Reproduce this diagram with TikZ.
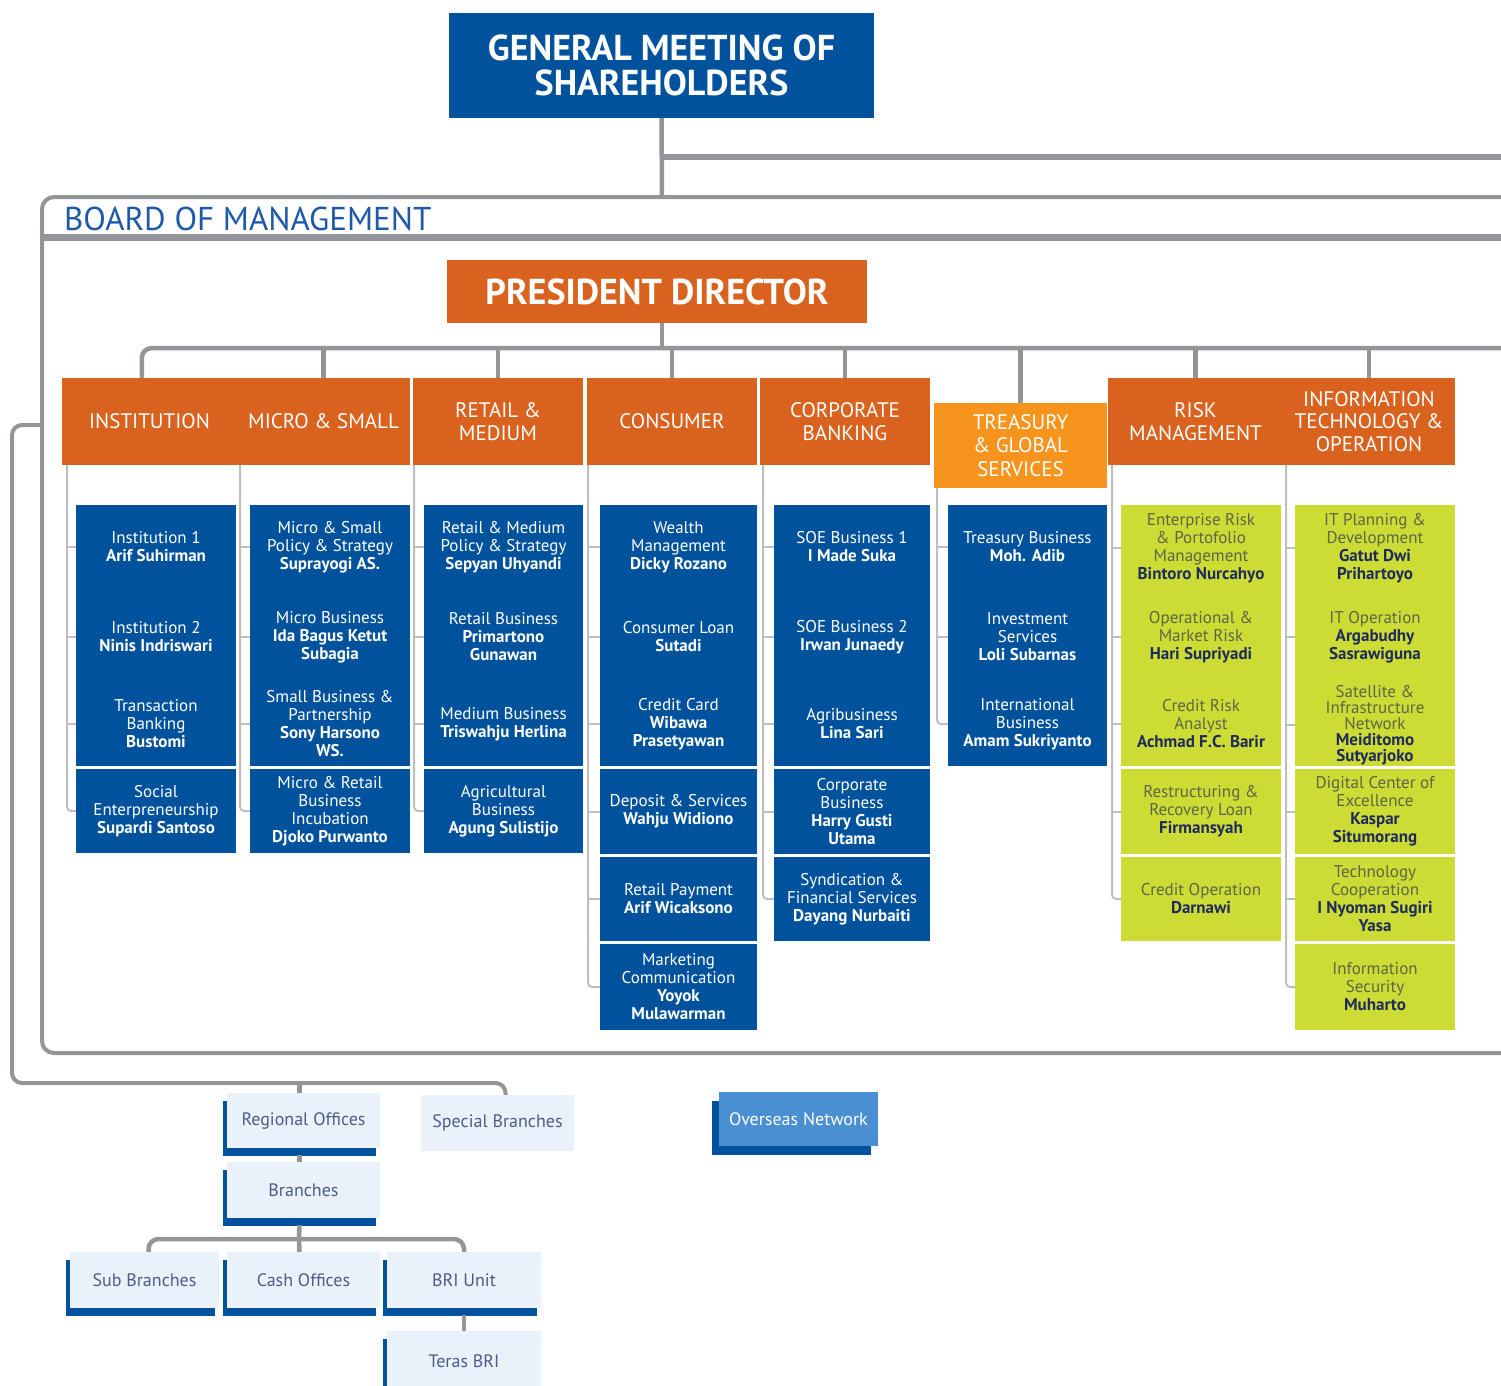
\documentclass[tikz,border=0pt]{standalone}
\usepackage{fontspec}
\setmainfont{PT Sans}
\usetikzlibrary{shadows}

\definecolor{briblue}{HTML}{00529C}
\definecolor{briorange}{HTML}{DA621F}
\definecolor{brigold}{HTML}{F7941D}
\definecolor{brigreen}{HTML}{CDDB35}
\definecolor{linegray}{HTML}{939598}
\definecolor{spinegray}{HTML}{BCBEC0}
\definecolor{paleblue}{HTML}{E9F1FA}
\definecolor{skyblue}{HTML}{4A8FD1}
\definecolor{olivetext}{HTML}{5E6647}
\definecolor{navytext}{HTML}{1E2B5C}
\definecolor{unittext}{HTML}{4F5C84}
\definecolor{boardtext}{HTML}{1D59A7}

\newcommand{\who}[1]{\textbf{#1}}
\newcommand{\gwho}[1]{{\bfseries\color{navytext}#1}}

\begin{document}
\begin{tikzpicture}[x=1pt, y=-1pt,
    conn/.style={draw=linegray, line width=4.5pt, rounded corners=10pt},
    spine/.style={draw=spinegray, line width=2pt, rounded corners=4pt},
    head/.style={fill=briorange, text=white, align=center, inner sep=0pt, minimum height=87pt, font=\fontsize{21}{22.5}\selectfont},
    entry/.style={text=white, align=center, inner sep=0pt, font=\fontsize{17}{18}\selectfont},
    gentry/.style={entry, text=olivetext},
    bluebox/.style={entry, fill=briblue},
    greenbox/.style={gentry, fill=brigreen, minimum width=160pt},
    unitbox/.style={fill=paleblue, text=unittext, inner sep=0pt, minimum width=153pt, minimum height=55pt, font=\fontsize{18}{18}\selectfont},
    blueshade/.style={drop shadow={shadow xshift=-4pt, shadow yshift=-8pt, fill=briblue, opacity=1}}
]
    \useasboundingbox (0,0) rectangle (1501,1385);

    % Shareholders and board frame
    \node[fill=briblue, text=white, align=center, inner sep=0pt, minimum width=425pt, minimum height=105pt, font=\fontsize{36}{35}\selectfont\bfseries] (gms) at (661.5,65.5) {GENERAL MEETING OF\\SHAREHOLDERS};
    \coordinate (boardtop) at (662,197);
    \coordinate (toright) at (1510,157);
    \draw[conn, line width=6pt] (gms.south |- toright) -- (toright);
    \draw[conn] (gms.south) -- (boardtop);
    \draw[linegray, line width=4pt, rounded corners=12pt] (1510,197) -- (42,197) -- (42,1053) -- (1510,1053);
    \draw[linegray, line width=7pt] (42,237) -- (1510,237);
    \node[anchor=west, text=boardtext, inner sep=0pt, font=\fontsize{33}{33}\selectfont] (bom) at (64,219) {BOARD OF MANAGEMENT};

    % President director
    \node[fill=briorange, text=white, inner sep=0pt, minimum width=420pt, minimum height=63pt, font=\fontsize{36}{36}\selectfont\bfseries] (pd) at (657,291.5) {PRESIDENT DIRECTOR};

    % Directorates
    \node[head, minimum width=175pt] (hInst) at (149.5,421.5) {INSTITUTION};
    \node[head, minimum width=173pt] (hMicro) at (323.5,421.5) {MICRO \& SMALL};
    \node[head, minimum width=170pt] (hRetail) at (498,421.5) {RETAIL \&\\MEDIUM};
    \node[head, minimum width=170pt] (hCons) at (672,421.5) {CONSUMER};
    \node[head, minimum width=170pt] (hCorp) at (845,421.5) {CORPORATE\\BANKING};
    \node[head, fill=brigold, minimum width=173pt, minimum height=85pt, font=\fontsize{21}{23.5}\selectfont] (hTreas) at (1020.5,445.5) {TREASURY\\\& GLOBAL\\SERVICES};
    \node[head, minimum width=175pt] (hRisk) at (1195.5,421.5) {RISK\\MANAGEMENT};
    \node[head, minimum width=172pt] (hIT) at (1369,421.5) {INFORMATION\\TECHNOLOGY \&\\OPERATION};

    % Bus from president director
    \coordinate (pdbus) at (662,348);
    \coordinate (busR) at (1510,348);
    \draw[conn] (pd.south -| pdbus) -- (pdbus);
    \draw[conn] ([xshift=80pt]hInst.north west) |- (busR);
    \draw[conn] (hMicro.north |- busR) -- (hMicro.north);
    \draw[conn] (hRetail.north |- busR) -- (hRetail.north);
    \draw[conn] (hCons.north |- busR) -- (hCons.north);
    \draw[conn] (hCorp.north |- busR) -- (hCorp.north);
    \draw[conn] (hTreas.north |- busR) -- (hTreas.north);
    \draw[conn] (hRisk.north |- busR) -- (hRisk.north);
    \draw[conn] (hIT.north |- busR) -- (hIT.north);

    % Institution
    \node[bluebox, minimum width=160pt, minimum height=261pt] (instA) at (156,635.5) {};
    \node[entry] (inst1) at (156,547) {Institution 1\\\who{Arif Suhirman}};
    \node[entry] (inst2) at (156,637) {Institution 2\\\who{Ninis Indriswari}};
    \node[entry] (inst3) at (156,724) {Transaction\\Banking\\\who{Bustomi}};
    \node[bluebox, minimum width=160pt, minimum height=84pt] (instB) at (156,811) {Social\\Enterpreneurship\\\who{Supardi Santoso}};
    \coordinate (sInst) at (67,465);
    \draw[spine] (sInst) |- (instB.west);
    \draw[spine] (inst1 -| sInst) -- (inst1 -| instA.west) (inst2 -| sInst) -- (inst2 -| instA.west) (inst3 -| sInst) -- (inst3 -| instA.west);

    % Micro & small
    \node[bluebox, minimum width=160pt, minimum height=261pt] (microA) at (330,635.5) {};
    \node[entry] (micro1) at (330,547) {Micro \& Small\\Policy \& Strategy\\\who{Suprayogi AS.}};
    \node[entry] (micro2) at (330,637) {Micro Business\\\who{Ida Bagus Ketut}\\\who{Subagia}};
    \node[entry] (micro3) at (330,724) {Small Business \&\\Partnership\\\who{Sony Harsono}\\\who{WS.}};
    \node[bluebox, minimum width=160pt, minimum height=84pt] (microB) at (330,811) {Micro \& Retail\\Business\\Incubation\\\who{Djoko Purwanto}};
    \coordinate (sMicro) at (240,465);
    \draw[spine] (sMicro) |- (microB.west);
    \draw[spine] (micro1 -| sMicro) -- (micro1 -| microA.west) (micro2 -| sMicro) -- (micro2 -| microA.west) (micro3 -| sMicro) -- (micro3 -| microA.west);

    % Retail & medium
    \node[bluebox, minimum width=159pt, minimum height=261pt] (retailA) at (503.5,635.5) {};
    \node[entry] (retail1) at (503.5,547) {Retail \& Medium\\Policy \& Strategy\\\who{Sepyan Uhyandi}};
    \node[entry] (retail2) at (503.5,637) {Retail Business\\\who{Primartono}\\\who{Gunawan}};
    \node[entry] (retail3) at (503.5,724) {Medium Business\\\who{Triswahju Herlina}};
    \node[bluebox, minimum width=159pt, minimum height=84pt] (retailB) at (503.5,811) {Agricultural\\Business\\\who{Agung Sulistijo}};
    \coordinate (sRetail) at (414,465);
    \draw[spine] (sRetail) |- (retailB.west);
    \draw[spine] (retail1 -| sRetail) -- (retail1 -| retailA.west) (retail2 -| sRetail) -- (retail2 -| retailA.west) (retail3 -| sRetail) -- (retail3 -| retailA.west);

    % Consumer
    \node[bluebox, minimum width=157pt, minimum height=261pt] (consA) at (678.5,635.5) {};
    \node[entry] (cons1) at (678.5,547) {Wealth\\Management\\\who{Dicky Rozano}};
    \node[entry] (cons2) at (678.5,637) {Consumer Loan\\\who{Sutadi}};
    \node[entry] (cons3) at (678.5,724) {Credit Card\\\who{Wibawa}\\\who{Prasetyawan}};
    \node[bluebox, minimum width=157pt, minimum height=85pt] (consB) at (678.5,811.5) {Deposit \& Services\\\who{Wahju Widiono}};
    \node[bluebox, minimum width=157pt, minimum height=84pt] (consC) at (678.5,899) {Retail Payment\\\who{Arif Wicaksono}};
    \node[bluebox, minimum width=157pt, minimum height=86pt] (consD) at (678.5,987) {Marketing\\Communication\\\who{Yoyok}\\\who{Mulawarman}};
    \coordinate (sCons) at (588,465);
    \draw[spine] (sCons) |- (consD.west);
    \draw[spine] (cons1 -| sCons) -- (cons1 -| consA.west) (cons2 -| sCons) -- (cons2 -| consA.west) (cons3 -| sCons) -- (cons3 -| consA.west) (consB -| sCons) -- (consB.west) (consC -| sCons) -- (consC.west);

    % Corporate banking
    \node[bluebox, minimum width=156pt, minimum height=261pt] (corpA) at (852,635.5) {};
    \node[entry] (corp1) at (852,547) {SOE Business 1\\\who{I Made Suka}};
    \node[entry] (corp2) at (852,637) {SOE Business 2\\\who{Irwan Junaedy}};
    \node[entry] (corp3) at (852,724) {Agribusiness\\\who{Lina Sari}};
    \node[bluebox, minimum width=156pt, minimum height=85pt] (corpB) at (852,811.5) {Corporate\\Business\\\who{Harry Gusti}\\\who{Utama}};
    \node[bluebox, minimum width=156pt, minimum height=84pt] (corpC) at (852,899) {Syndication \&\\Financial Services\\\who{Dayang Nurbaiti}};
    \coordinate (sCorp) at (763,465);
    \draw[spine] (sCorp) |- (corpC.west);
    \draw[spine] (corp1 -| sCorp) -- (corp1 -| corpA.west) (corp2 -| sCorp) -- (corp2 -| corpA.west) (corp3 -| sCorp) -- (corp3 -| corpA.west) (corpB -| sCorp) -- (corpB.west);

    % Treasury & global services
    \node[bluebox, minimum width=159pt, minimum height=261pt] (treasA) at (1027.5,635.5) {};
    \node[entry] (treas1) at (1027.5,547) {Treasury Business\\\who{Moh. Adib}};
    \node[entry] (treas2) at (1027.5,637) {Investment\\Services\\\who{Loli Subarnas}};
    \node[entry] (treas3) at (1027.5,724) {International\\Business\\\who{Amam Sukriyanto}};
    \coordinate (sTreas) at (937,488);
    \draw[spine] (sTreas) |- (treas3 -| treasA.west);
    \draw[spine] (treas1 -| sTreas) -- (treas1 -| treasA.west) (treas2 -| sTreas) -- (treas2 -| treasA.west);

    % Risk management
    \node[greenbox, minimum height=261pt] (riskA) at (1201,635.5) {};
    \node[gentry] (risk1) at (1201,548) {Enterprise Risk\\\& Portofolio\\Management\\\gwho{Bintoro Nurcahyo}};
    \node[gentry] (risk2) at (1201,637) {Operational \&\\Market Risk\\\gwho{Hari Supriyadi}};
    \node[gentry] (risk3) at (1201,724) {Credit Risk\\Analyst\\\gwho{Achmad F.C. Barir}};
    \node[greenbox, minimum height=85pt] (riskB) at (1201,811.5) {Restructuring \&\\Recovery Loan\\\gwho{Firmansyah}};
    \node[greenbox, minimum height=84pt] (riskC) at (1201,899) {Credit Operation\\\gwho{Darnawi}};
    \coordinate (sRisk) at (1112,465);
    \draw[spine] (sRisk) |- (riskC.west);
    \draw[spine] (risk1 -| sRisk) -- (risk1 -| riskA.west) (risk2 -| sRisk) -- (risk2 -| riskA.west) (risk3 -| sRisk) -- (risk3 -| riskA.west) (riskB -| sRisk) -- (riskB.west);

    % Information technology & operation
    \node[greenbox, minimum height=261pt] (itA) at (1375,635.5) {};
    \node[gentry] (it1) at (1375,548) {IT Planning \&\\Development\\\gwho{Gatut Dwi}\\\gwho{Prihartoyo}};
    \node[gentry] (it2) at (1375,637) {IT Operation\\\gwho{Argabudhy}\\\gwho{Sasrawiguna}};
    \node[gentry, font=\fontsize{17}{16}\selectfont] (it3) at (1375,725) {Satellite \&\\Infrastructure\\Network\\\gwho{Meiditomo}\\\gwho{Sutyarjoko}};
    \node[greenbox, minimum height=85pt] (itB) at (1375,811.5) {Digital Center of\\Excellence\\\gwho{Kaspar}\\\gwho{Situmorang}};
    \node[greenbox, minimum height=84pt] (itC) at (1375,899) {Technology\\Cooperation\\\gwho{I Nyoman Sugiri}\\\gwho{Yasa}};
    \node[greenbox, minimum height=86pt] (itD) at (1375,987) {Information\\Security\\\gwho{Muharto}};
    \coordinate (sIT) at (1286,465);
    \draw[spine] (sIT) |- (itD.west);
    \draw[spine] (it1 -| sIT) -- (it1 -| itA.west) (it2 -| sIT) -- (it2 -| itA.west) (it3 -| sIT) -- (it3 -| itA.west) (itB -| sIT) -- (itB.west) (itC -| sIT) -- (itC.west);

    % Network offices
    \node[unitbox, blueshade] (regional) at (303.5,1120.5) {Regional Offices};
    \node[unitbox, minimum height=56pt] (special) at (497.5,1123) {Special Branches};
    \node[unitbox, fill=skyblue, text=white, minimum width=159pt, minimum height=54pt, drop shadow={shadow xshift=-7pt, shadow yshift=-9pt, fill=briblue, opacity=1}] (overseas) at (798.5,1119) {Overseas Network};
    \node[unitbox, blueshade, minimum height=56pt] (branches) at (303.5,1190) {Branches};
    \node[unitbox, blueshade, minimum height=56pt, minimum width=149pt] (subbr) at (144.5,1280) {Sub Branches};
    \node[unitbox, blueshade, minimum height=56pt] (cash) at (303.5,1280) {Cash Offices};
    \node[unitbox, blueshade, minimum height=56pt, minimum width=154pt] (briunit) at (464,1280) {BRI Unit};
    \node[unitbox, blueshade, minimum height=60pt, minimum width=154pt] (teras) at (464,1361) {Teras BRI};

    \coordinate (bl) at (42,425);
    \coordinate (lowbus) at (12,1083);
    \coordinate (regtop) at ([xshift=-4pt]regional.north);
    \coordinate (regbot) at ([xshift=-4pt,yshift=-7pt]regional.south);
    \coordinate (brtop) at ([xshift=-4pt]branches.north);
    \coordinate (brbot) at ([xshift=-4pt,yshift=-7pt]branches.south);
    \coordinate (brbus) at (299,1239);
    \draw[conn, line width=4pt] (bl) -| (lowbus) -| ([xshift=8pt]special.north);
    \draw[conn] (regtop |- lowbus) -- (regtop);
    \draw[conn] (regbot) -- (brtop);
    \draw[conn] (brbot) -- (brbus);
    \draw[conn] ([xshift=4pt]subbr.north) |- (brbus) -| (briunit.north);
    \draw[conn] (brbus) -- ([xshift=-4pt]cash.north);
    \draw[conn] ([yshift=-7pt]briunit.south) -- (teras.north);
\end{tikzpicture}
\end{document}
